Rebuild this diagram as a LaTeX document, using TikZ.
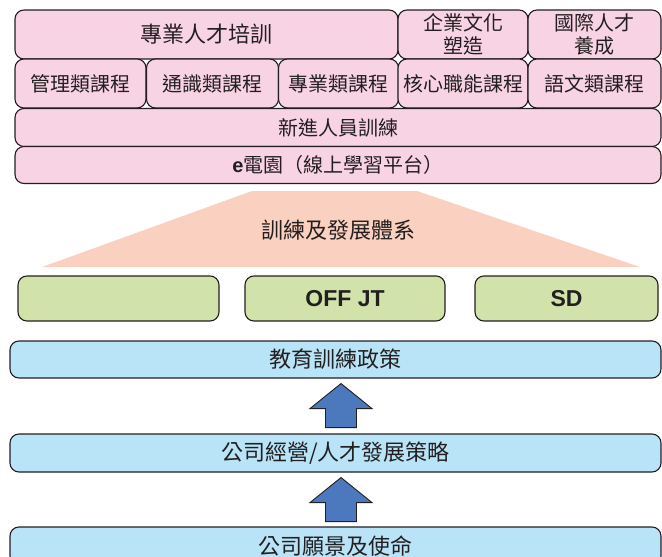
\documentclass[tikz,border=0pt]{standalone}
\usepackage{fontspec}
\setmainfont{Noto Sans CJK TC}
\newfontfamily\latinb{Liberation Sans}
\usetikzlibrary{calc}
\definecolor{pinkbox}{HTML}{F8D3E4}
\definecolor{bluebox}{HTML}{B9E4F8}
\definecolor{greenbox}{HTML}{D1E3AA}
\definecolor{salmon}{HTML}{FAD1C0}
\definecolor{arrowblue}{HTML}{4C78BD}
\definecolor{ink}{HTML}{231F20}
\tikzset{
  box/.style={draw=ink, line width=1.1pt, rounded corners=9pt, inner sep=0pt, text=ink, align=center},
  pinkb/.style={box, fill=pinkbox},
  greenb/.style={box, fill=greenbox},
  blueb/.style={box, fill=bluebox},
  sz/.style 2 args={minimum width=#1pt, minimum height=#2pt},
  bigarrow/.style={fill=arrowblue, draw=ink, line width=0.9pt, line join=miter},
  f22/.style={font=\fontsize{22}{26}\selectfont},
  f20/.style={font=\fontsize{20}{23}\selectfont},
  latinbold/.style={font=\latinb\bfseries\fontsize{23}{26}\selectfont},
}
\begin{document}
\begin{tikzpicture}[x=1pt, y=-1pt]
\useasboundingbox (0,0) rectangle (662,557);
\clip (0,0) rectangle (662,557);
% row 1
\node[pinkb, sz={383}{49}, f22] (r1a) at (206.5,34.5) {專業人才培訓};
\node[pinkb, sz={130}{49}, f20] (r1b) at (463,34.5) {企業文化\\塑造};
\node[pinkb, sz={133}{49}, f20] (r1c) at (594.5,34.5) {國際人才\\養成};
% row 2
\node[pinkb, sz={131}{49}, f20] (r2a) at (80.5,83.5) {管理類課程};
\node[pinkb, sz={132}{49}, f20] (r2b) at (212.5,83.5) {通識類課程};
\node[pinkb, sz={120}{49}, f20] (r2c) at (338.5,83.5) {專業類課程};
\node[pinkb, sz={130}{49}, f20] (r2d) at (463,83.5) {核心職能課程};
\node[pinkb, sz={133}{49}, f20] (r2e) at (594.5,83.5) {語文類課程};
% rows 3, 4
\node[pinkb, sz={646}{38}, f20] (r3) at (338,127.5) {新進人員訓練};
\node[pinkb, sz={646}{37}, f20] (r4) at (338,165) {{\latinb\bfseries e}電園（線上學習平台）};
% trapezoid
\path[fill=salmon] (252,191) -- (417,191) -- (640,267) -- (42,267) -- cycle;
\node[f22, text=ink] (sys) at (338,230) {訓練及發展體系};
% green boxes
\node[greenb, sz={201}{45}] (g1) at (118.5,298.5) {};
\node[greenb, sz={200}{45}, latinbold] (g2) at (345,298.5) {OFF JT};
\node[greenb, sz={183}{45}, latinbold] (g3) at (566.5,298.5) {SD};
% blue boxes
\node[blueb, sz={651}{37}, f22] (b1) at (335.5,359.5) {教育訓練政策};
\node[blueb, sz={651}{38}, f22] (b2) at (335.5,453) {公司經營/人才發展策略};
\node[blueb, sz={651}{38}, f22] (b3) at (335.5,546) {公司願景及使命};
% arrows
\coordinate (t1) at ($(b1.south)+(5.5,5)$);
\coordinate (t2) at ($(b2.south)+(5.5,5)$);
\draw[bigarrow] (t1) -- ++(31,25) -- ++(-15.5,0) -- ++(0,19) -- ++(-31,0) -- ++(0,-19) -- ++(-15.5,0) -- cycle;
\draw[bigarrow] (t2) -- ++(31,25) -- ++(-15.5,0) -- ++(0,19) -- ++(-31,0) -- ++(0,-19) -- ++(-15.5,0) -- cycle;
\end{tikzpicture}
\end{document}
